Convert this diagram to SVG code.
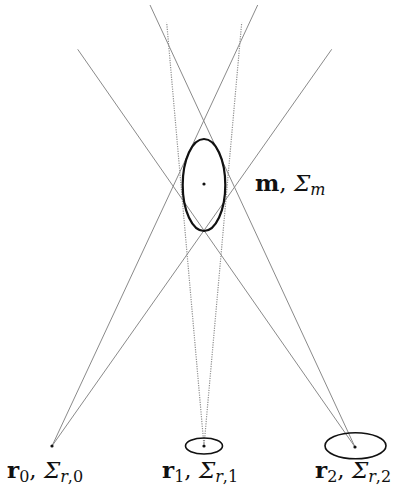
<svg xmlns="http://www.w3.org/2000/svg" width="395" height="498" viewBox="0 0 395 498">
<style>
.bg{fill:#fff}
.ray{stroke:#8a8a8a;stroke-width:1;fill:none}
.dot-ray{stroke:#8f8f8f;stroke-width:1.2;stroke-dasharray:1.2 1.2;fill:none}
.cov{fill:none;stroke:#111;stroke-width:1.6}
.covm{fill:none;stroke:#111;stroke-width:2.2}
.pt{fill:#111}
.lbl{font-family:"DejaVu Serif","Liberation Serif",serif;font-size:23px;fill:#111}
.b{font-weight:bold}
.i{font-style:italic}
.sub{font-size:16px}
</style>
<rect class="bg" x="0" y="0" width="395" height="498"/>
<g id="connectors">
<line class="ray" x1="52" y1="446" x2="257.7" y2="5"/>
<line class="ray" x1="52" y1="446" x2="331.7" y2="49.3"/>
<line class="ray" x1="355" y1="447" x2="150" y2="5"/>
<line class="ray" x1="355" y1="447" x2="77.7" y2="49.3"/>
<line class="dot-ray" x1="204" y1="446" x2="166.7" y2="22.7"/>
<line class="dot-ray" x1="204" y1="446" x2="241.7" y2="22.7"/>
</g>
<g id="m">
<ellipse class="covm" cx="204" cy="185" rx="21.3" ry="46"/>
<circle class="pt" cx="204" cy="184" r="1.6"/>
<text class="lbl" x="255" y="191"><tspan class="b">m</tspan>, <tspan class="i">Σ</tspan><tspan class="i sub" dy="4">m</tspan></text>
</g>
<g id="r0">
<circle class="pt" cx="52" cy="446" r="1.6"/>
<text class="lbl" x="7" y="478"><tspan class="b">r</tspan><tspan class="sub" dy="4">0</tspan><tspan dy="-4">, </tspan><tspan class="i">Σ</tspan><tspan class="sub" dy="4"><tspan class="i">r</tspan>,0</tspan></text>
</g>
<g id="r1">
<ellipse class="cov" cx="204" cy="446" rx="18.5" ry="8"/>
<circle class="pt" cx="204" cy="446" r="1.6"/>
<text class="lbl" x="162" y="478"><tspan class="b">r</tspan><tspan class="sub" dy="4">1</tspan><tspan dy="-4">, </tspan><tspan class="i">Σ</tspan><tspan class="sub" dy="4"><tspan class="i">r</tspan>,1</tspan></text>
</g>
<g id="r2">
<ellipse class="cov" cx="355.5" cy="445.7" rx="30.5" ry="13"/>
<circle class="pt" cx="355" cy="447" r="1.6"/>
<text class="lbl" x="315" y="478"><tspan class="b">r</tspan><tspan class="sub" dy="4">2</tspan><tspan dy="-4">, </tspan><tspan class="i">Σ</tspan><tspan class="sub" dy="4"><tspan class="i">r</tspan>,2</tspan></text>
</g>
</svg>
